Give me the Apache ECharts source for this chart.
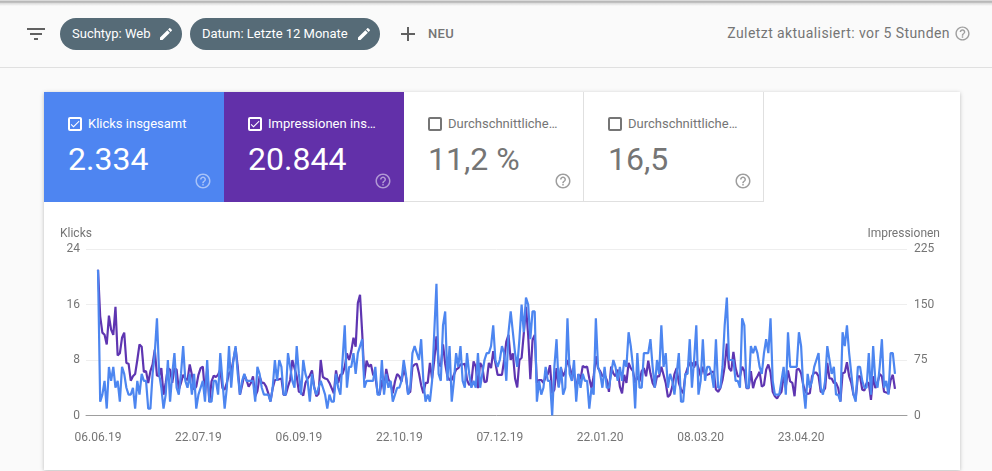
<!DOCTYPE html>
<html lang="de">
<head>
<meta charset="utf-8">
<title>Leistung</title>
<script src="https://cdn.jsdelivr.net/npm/echarts@6/dist/echarts.min.js"></script>
<style>
html, body { margin: 0; padding: 0; width: 992px; height: 471px; overflow: hidden; background: #fafafa; font-family: Roboto, sans-serif; }
.abs { position: absolute; }
#topshade { left: 0; top: 0; width: 992px; height: 6px; background: linear-gradient(#e8e8e8 0, #a8a8a8 2px, #d8d8d8 3px, #fafafa 6px); }
#bar { left: 0; top: 2px; width: 992px; height: 65px; border-bottom: 1px solid #e0e0e0; }
.chip { top: 18px; height: 32px; border-radius: 16px; background: #566b77; color: #fff; font-size: 13px; line-height: 32px; padding-left: 12px; box-sizing: border-box; white-space: nowrap; }
.chip svg { position: absolute; top: 8px; width: 16px; height: 16px; fill: #fff; }
#neu { left: 428px; top: 27px; font-size: 13px; line-height: 14px; font-weight: 500; color: #757575; letter-spacing: .3px; }
#updated { right: 42px; top: 25px; font-size: 14px; line-height: 17px; color: #757575; letter-spacing: .42px; }
#card { left: 44px; top: 92px; width: 916px; height: 378px; background: #fff; box-shadow: 0 1px 4px rgba(0,0,0,.25); }
.tile { top: 92px; width: 180px; height: 110px; box-sizing: border-box; color: #757575; }
.tile.off { background: #fff; border-right: 1px solid #e0e0e0; border-bottom: 1px solid #e0e0e0; }
.tile.on { color: #fff; }
.tile .name { position: absolute; left: 44px; top: 24px; font-size: 13px; line-height: 16px; white-space: nowrap; }
.tile .num { position: absolute; left: 24px; top: 48px; font-size: 32px; line-height: 38px; white-space: nowrap; }
.tile .box { position: absolute; left: 24px; top: 25px; width: 14px; height: 14px; box-sizing: border-box; border: 2px solid #757575; border-radius: 2px; }
.tile.on .box { border-color: #fff; }
.tile .box svg { position: absolute; left: -1px; top: -1px; width: 12px; height: 12px; fill: #fff; }
.help { position: absolute; width: 18px; height: 18px; fill: #9e9e9e; }
.tile.on .help { fill: rgba(255,255,255,.5); }
.tile .help { left: 150px; top: 80px; }
#main { left: 0; top: 0; width: 992px; height: 471px; }
</style>
</head>
<body>
<svg width="0" height="0" style="position:absolute">
  <symbol id="i-pen" viewBox="0 0 24 24"><path d="M3 17.25V21h3.75L17.81 9.94l-3.75-3.75L3 17.25zM20.71 7.04c.39-.39.39-1.02 0-1.41l-2.34-2.34c-.39-.39-1.02-.39-1.41 0l-1.83 1.83 3.75 3.75 1.83-1.83z"/></symbol>
  <symbol id="i-help" viewBox="0 0 24 24"><path d="M11 18h2v-2h-2v2zm1-16C6.48 2 2 6.48 2 12s4.48 10 10 10 10-4.48 10-10S17.52 2 12 2zm0 18c-4.41 0-8-3.59-8-8s3.59-8 8-8 8 3.59 8 8-3.59 8-8 8zm0-14c-2.21 0-4 1.79-4 4h2c0-1.1.9-2 2-2s2 .9 2 2c0 2-3 1.75-3 5h2c0-2.25 3-2.5 3-5 0-2.21-1.79-4-4-4z"/></symbol>
</svg>

<div class="abs" id="bar"></div>
<div class="abs" id="topshade"></div>
<svg class="abs" style="left:24px;top:22px" width="24" height="24" fill="#616161"><path d="M10 18h4v-2h-4v2zM3 6v2h18V6H3zm3 7h12v-2H6v2z"/></svg>
<div class="abs chip" style="left:60px;top:18px;width:122px">Suchtyp: Web<svg style="left:98px"><use href="#i-pen"/></svg></div>
<div class="abs chip" style="left:190px;top:18px;width:190px">Datum: Letzte 12 Monate<svg style="left:166px"><use href="#i-pen"/></svg></div>
<svg class="abs" style="left:396px;top:22px" width="24" height="24" fill="#616161"><path d="M19 13h-6v6h-2v-6H5v-2h6V5h2v6h6v2z"/></svg>
<div class="abs" id="neu">NEU</div>
<div class="abs" id="updated">Zuletzt aktualisiert: vor 5 Stunden</div>
<svg class="abs help" style="left:954px;top:25px;width:17px;height:17px"><use href="#i-help"/></svg>

<div class="abs" id="card"></div>
<div class="abs tile on" style="left:44px;background:#4e85f1">
  <div class="box"><svg viewBox="0 0 24 24"><path d="M9 16.2L4.8 12l-1.4 1.4L9 19 21 7l-1.4-1.4z"/></svg></div>
  <div class="name">Klicks insgesamt</div><div class="num">2.334</div><svg class="help"><use href="#i-help"/></svg>
</div>
<div class="abs tile on" style="left:224px;background:#6230a9">
  <div class="box"><svg viewBox="0 0 24 24"><path d="M9 16.2L4.8 12l-1.4 1.4L9 19 21 7l-1.4-1.4z"/></svg></div>
  <div class="name">Impressionen ins…</div><div class="num">20.844</div><svg class="help"><use href="#i-help"/></svg>
</div>
<div class="abs tile off" style="left:404px">
  <div class="box"></div><div class="name">Durchschnittliche…</div><div class="num">11,2 %</div><svg class="help"><use href="#i-help"/></svg>
</div>
<div class="abs tile off" style="left:584px">
  <div class="box"></div><div class="name">Durchschnittliche…</div><div class="num">16,5</div><svg class="help"><use href="#i-help"/></svg>
</div>

<div class="abs" id="main"></div>

<script>
// Tage seit 06.06.19, an denen ein Datum an der Achse steht
var tickDays = [0, 46, 92, 138, 184, 230, 276, 322];
var tickLabels = ['06.06.19', '22.07.19', '06.09.19', '22.10.19', '07.12.19', '22.01.20', '08.03.20', '23.04.20'];

// Klicks pro Tag (linke Achse)
var klicks = [
    21, 2, 3, 5, 1, 7, 5, 7, 4, 5,
    2, 7, 6, 4, 3, 3, 4, 1, 5, 3,
    6, 5, 5, 1, 1, 6, 9, 14, 6, 4,
    1, 3, 8, 2, 6, 9, 4, 3, 6, 10,
    5, 4, 6, 3, 6, 1, 3, 4, 5, 2,
    8, 2, 2, 5, 5, 3, 9, 5, 1, 4,
    10, 4, 8, 10, 6, 3, 5, 6, 5, 5,
    5, 5, 2, 7, 6, 4, 3, 3, 3, 2,
    4, 8, 5, 8, 7, 3, 3, 9, 7, 5,
    4, 10, 6, 3, 8, 6, 5, 2, 6, 4,
    3, 4, 5, 4, 3, 1, 3, 2, 2, 6,
    4, 3, 8, 13, 4, 7, 7, 9, 6, 9,
    10, 11, 4, 5, 5, 5, 5, 7, 3, 3,
    8, 3, 6, 4, 5, 2, 3, 4, 4, 5,
    8, 6, 3, 4, 9, 10, 9, 8, 11, 5,
    2, 3, 2, 5, 12, 19, 6, 5, 13, 15,
    5, 10, 2, 5, 9, 7, 10, 5, 4, 9,
    6, 4, 5, 4, 9, 4, 6, 8, 9, 9,
    10, 13, 8, 7, 8, 10, 9, 5, 12, 15,
    12, 9, 7, 11, 16, 12, 17, 16, 11, 15,
    15, 2, 5, 3, 4, 7, 5, 5, 0, 7,
    11, 4, 7, 3, 4, 14, 6, 5, 8, 2,
    6, 4, 6, 5, 5, 1, 4, 3, 14, 7,
    6, 4, 7, 4, 4, 6, 8, 7, 5, 7,
    5, 8, 7, 12, 10, 7, 1, 9, 4, 4,
    9, 9, 9, 11, 7, 4, 8, 6, 13, 7,
    9, 4, 6, 5, 3, 6, 9, 2, 2, 6,
    6, 11, 4, 8, 13, 3, 5, 11, 5, 7,
    7, 6, 4, 11, 4, 4, 7, 13, 17, 8,
    8, 8, 5, 5, 4, 14, 13, 4, 4, 10,
    9, 10, 9, 7, 6, 9, 11, 9, 14, 5,
    3, 3, 3, 5, 7, 3, 12, 7, 7, 7,
    7, 12, 10, 4, 1, 6, 4, 5, 7, 8,
    9, 4, 3, 5, 10, 8, 6, 7, 3, 3,
    2, 12, 10, 13, 9, 6, 3, 2, 7, 7,
    5, 4, 4, 9, 3, 10, 5, 4, 7, 11,
    4, 5, 3, 9, 9, 6
];

// Impressionen pro Tag (rechte Achse)
var impressionen = [
    197, 134, 112, 109, 96, 135, 116, 109, 147, 81,
    84, 105, 112, 71, 70, 47, 53, 56, 75, 96,
    93, 59, 60, 44, 60, 69, 89, 54, 53, 64,
    28, 44, 64, 62, 44, 64, 62, 35, 44, 55,
    50, 48, 69, 55, 35, 39, 55, 64, 66, 30,
    62, 18, 46, 54, 52, 55, 62, 37, 35, 44,
    57, 60, 75, 91, 66, 28, 41, 55, 48, 39,
    44, 53, 26, 33, 53, 44, 44, 39, 30, 19,
    37, 48, 48, 49, 50, 28, 28, 39, 48, 75,
    64, 53, 32, 31, 27, 44, 50, 54, 61, 39,
    26, 29, 75, 52, 50, 49, 44, 37, 30, 61,
    44, 55, 56, 66, 84, 75, 87, 105, 93, 152,
    163, 111, 50, 74, 66, 69, 55, 53, 32, 28,
    48, 35, 63, 49, 44, 30, 46, 56, 53, 46,
    62, 53, 30, 32, 66, 69, 70, 57, 41, 30,
    44, 44, 71, 50, 75, 107, 71, 66, 96, 70,
    53, 48, 48, 55, 62, 64, 69, 69, 70, 48,
    41, 45, 73, 66, 37, 71, 66, 45, 46, 71,
    64, 87, 71, 55, 55, 55, 75, 100, 109, 75,
    84, 50, 38, 75, 78, 111, 147, 109, 49, 102,
    109, 44, 48, 48, 44, 52, 56, 68, 30, 35,
    64, 39, 64, 53, 60, 75, 66, 55, 56, 35,
    56, 49, 67, 65, 66, 50, 37, 53, 80, 64,
    60, 53, 55, 48, 32, 66, 57, 53, 62, 39,
    30, 55, 44, 71, 64, 60, 44, 53, 46, 60,
    64, 53, 74, 57, 44, 38, 53, 53, 66, 55,
    44, 25, 28, 39, 56, 64, 44, 35, 30, 55,
    64, 71, 71, 65, 73, 64, 53, 66, 55, 55,
    56, 59, 59, 35, 32, 37, 48, 66, 97, 64,
    60, 86, 64, 53, 53, 66, 60, 37, 37, 60,
    37, 48, 53, 59, 39, 41, 62, 69, 58, 32,
    26, 23, 28, 32, 53, 39, 61, 46, 44, 26,
    62, 63, 57, 41, 32, 29, 30, 53, 58, 58,
    53, 32, 32, 37, 71, 50, 50, 44, 44, 37,
    19, 57, 58, 72, 53, 44, 28, 23, 53, 53,
    35, 34, 44, 44, 21, 53, 37, 44, 56, 53,
    32, 31, 30, 48, 55, 36
];

function withDay(values) {
    return values.map(function (v, i) { return [i, v]; });
}

var myChart = echarts.init(document.getElementById('main'), null, { renderer: 'canvas' });

var labelStyle = { color: '#757575', fontSize: 12, fontFamily: 'Roboto', padding: [5, 0, 0, 0] };

myChart.setOption({
    backgroundColor: 'transparent',
    animation: false,
    grid: { left: 86, right: 85, top: 249, bottom: 55.5 },
    xAxis: {
        type: 'value',
        min: -5.5,
        max: 370.5,
        splitLine: { show: false },
        axisTick: { show: false },
        axisLine: { show: true, lineStyle: { color: '#9e9e9e', width: 1 } },
        axisLabel: {
            color: '#757575', fontSize: 12, fontFamily: 'Roboto', margin: 16,
            customValues: tickDays,
            formatter: function (v) { return tickLabels[tickDays.indexOf(v)]; }
        }
    },
    yAxis: [{
        type: 'value',
        min: 0, max: 24, interval: 8,
        name: 'Klicks',
        nameLocation: 'end',
        nameGap: 9,
        nameTextStyle: { color: '#757575', fontSize: 12, fontFamily: 'Roboto', align: 'left', padding: [0, 0, 0, -38] },
        axisLine: { show: false },
        axisTick: { show: false },
        axisLabel: Object.assign({ margin: 6 }, labelStyle),
        splitLine: { lineStyle: { color: '#eeeeee', width: 1 } }
    }, {
        type: 'value',
        min: 0, max: 225, interval: 75,
        name: 'Impressionen',
        nameLocation: 'end',
        nameGap: 9,
        nameTextStyle: { color: '#757575', fontSize: 12, fontFamily: 'Roboto', align: 'right', padding: [0, -33, 0, 0] },
        axisLine: { show: false },
        axisTick: { show: false },
        axisLabel: Object.assign({ margin: 7 }, labelStyle),
        splitLine: { show: false }
    }],
    series: [{
        name: 'Impressionen',
        type: 'line',
        yAxisIndex: 1,
        showSymbol: false,
        lineStyle: { color: '#5e35b1', width: 2.2 },
        data: withDay(impressionen)
    }, {
        name: 'Klicks',
        type: 'line',
        yAxisIndex: 0,
        showSymbol: false,
        lineStyle: { color: '#4d86f0', width: 2.2 },
        data: withDay(klicks)
    }]
});
</script>
</body>
</html>
